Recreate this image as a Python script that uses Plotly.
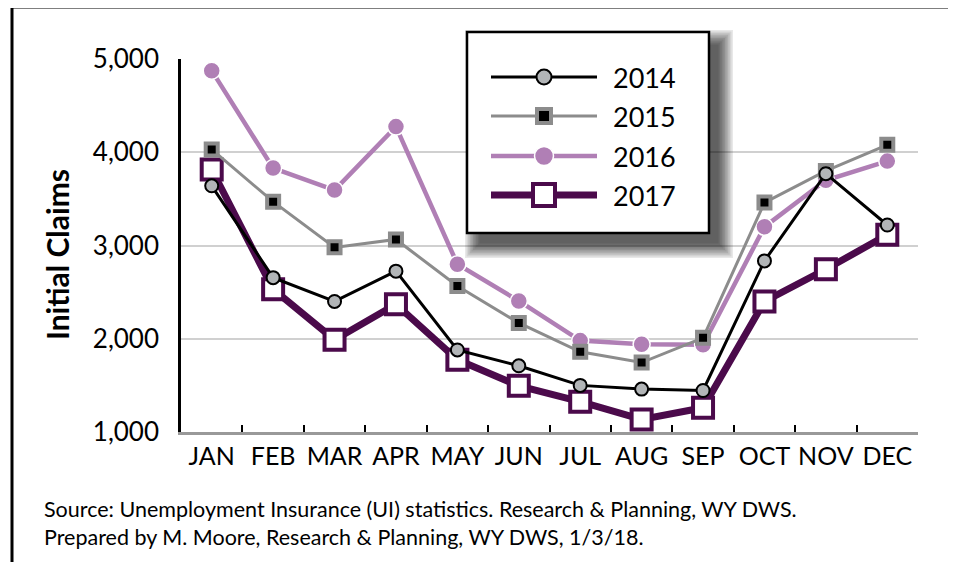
import plotly.graph_objects as go

months = ["JAN", "FEB", "MAR", "APR", "MAY", "JUN", "JUL", "AUG", "SEP", "OCT", "NOV", "DEC"]
claims_2014 = [3640, 2655, 2400, 2725, 1880, 1710, 1500, 1460, 1445, 2835, 3770, 3220]
claims_2015 = [4030, 3470, 2980, 3065, 2565, 2170, 1860, 1745, 2010, 3460, 3800, 4080]
claims_2016 = [4875, 3830, 3595, 4275, 2800, 2405, 1980, 1940, 1935, 3200, 3700, 3905]
claims_2017 = [3815, 2530, 1990, 2370, 1775, 1495, 1325, 1135, 1260, 2400, 2745, 3115]
y_ticks = [1000, 2000, 3000, 4000, 5000]
legend_years = ["2014", "2015", "2016", "2017"]

W, H = 956, 562
OFF = 8  # page body margin
FONT = "Lato"
C14_LINE, C14_FILL = "#000000", "#b2b5b7"
C15_LINE, C15_FILL = "#8c8c8c", "#000000"
C16 = "#b07fb5"
C17 = "#4b0a4b"

def px_x(p):
    return (p - OFF) / W

def px_y(p):
    return 1 - (p - OFF) / H

styles = {
    "2014": dict(line=dict(color=C14_LINE, width=3),
                 marker=dict(symbol="circle", size=13, color=C14_FILL, line=dict(color="#000", width=2))),
    "2015": dict(line=dict(color=C15_LINE, width=3),
                 marker=dict(symbol="square", size=12, color=C15_FILL, line=dict(color=C15_LINE, width=4))),
    "2016": dict(line=dict(color=C16, width=4.5),
                 marker=dict(symbol="circle", size=17, color=C16, line=dict(color="#fff", width=1.5))),
    "2017": dict(line=dict(color=C17, width=7),
                 marker=dict(symbol="square", size=20, color="#fff", line=dict(color=C17, width=4))),
}
series = {"2014": claims_2014, "2015": claims_2015, "2016": claims_2016, "2017": claims_2017}

fig = go.Figure()
for yr in ["2017", "2016", "2015", "2014"]:
    st = styles[yr]
    fig.add_trace(go.Scatter(x=months, y=series[yr], mode="lines+markers", name=yr,
                             line=st["line"], marker=st["marker"], showlegend=False,
                             xaxis="x", yaxis="y", cliponaxis=False))

# custom legend (page-pixel coordinates on a hidden helper axis pair)
LX0, LX1, LY0, LY1 = 455, 760, 20, 275
leg_rows = {"2014": 77, "2015": 116, "2016": 156, "2017": 195}
for yr in legend_years:
    st = styles[yr]
    ry = leg_rows[yr]
    fig.add_trace(go.Scatter(x=[491, 597], y=[ry, ry], mode="lines", line=st["line"],
                             showlegend=False, xaxis="x2", yaxis="y2", hoverinfo="skip"))
    mk = dict(st["marker"])
    mk["size"] = mk["size"] + 2
    fig.add_trace(go.Scatter(x=[544], y=[ry], mode="markers", marker=mk,
                             showlegend=False, xaxis="x2", yaxis="y2", hoverinfo="skip"))
    fig.add_annotation(x=611, y=ry, xref="x2", yref="y2", text=yr, showarrow=False,
                       xanchor="left", yanchor="middle",
                       font=dict(family=FONT, size=27, color="#000"))

shapes = []
# drop shadow
n = 10
for k in range(n):
    e = 13 - k * 1.6
    shapes.append(dict(type="rect", xref="x2", yref="y2", layer="below",
                       x0=467 + 11 - e, x1=709 + 11 + e, y0=31 + 12 - e, y1=233 + 12 + e,
                       fillcolor="rgba(0,0,0,0.09)", line=dict(width=0)))
shapes.append(dict(type="rect", xref="x2", yref="y2", layer="below",
                   x0=467, x1=709, y0=32, y1=233,
                   fillcolor="#ffffff", line=dict(color="#000", width=2.5)))
# outer frame
shapes.append(dict(type="rect", xref="paper", yref="paper", layer="below",
                   x0=px_x(12), x1=px_x(952), y0=-0.2, y1=px_y(7),
                   fillcolor="rgba(0,0,0,0)", line=dict(color="#000", width=3)))

fig.add_annotation(x=px_x(57), y=px_y(255), xref="paper", yref="paper",
                   text="<b>Initial Claims</b>", textangle=-90, showarrow=False,
                   xanchor="center", yanchor="middle",
                   font=dict(family=FONT, size=30, color="#000"))
fig.add_annotation(x=px_x(42), y=px_y(523), xref="paper", yref="paper",
                   text="Source: Unemployment Insurance (UI) statistics. Research &amp; Planning, WY DWS.<br>"
                        "Prepared by M. Moore, Research &amp; Planning, WY DWS, 1/3/18.",
                   showarrow=False, xanchor="left", yanchor="middle", align="left",
                   font=dict(family=FONT, size=21.5, color="#000"))

fig.update_layout(
    width=W, height=H,
    margin=dict(l=0, r=0, t=0, b=0, autoexpand=False),
    paper_bgcolor="#fff", plot_bgcolor="rgba(0,0,0,0)",
    font=dict(family=FONT, color="#000"),
    shapes=shapes,
    xaxis=dict(domain=[px_x(181), px_x(918)], type="category", range=[-0.5, 11.5],
               categoryorder="array", categoryarray=months,
               showline=True, linecolor="#999", linewidth=2.5,
               ticks="inside", tickson="boundaries", ticklen=7, tickwidth=2, tickcolor="#000",
               showgrid=False, tickfont=dict(family=FONT, size=25, color="#000"),
               tickangle=0, automargin=False,
               ticklabelstandoff=0, anchor="y"),
    yaxis=dict(domain=[px_y(432), px_y(59)], range=[1000, 5000], tickvals=y_ticks,
               tickformat=",", showline=True, linecolor="#000", linewidth=2.5,
               ticks="", showgrid=True, gridcolor="#d0d0d0", gridwidth=1.5,
               zeroline=False, tickfont=dict(family=FONT, size=26, color="#000"),
               automargin=False, ticklabelstandoff=14, anchor="x"),
    xaxis2=dict(domain=[px_x(LX0), px_x(LX1)], range=[LX0, LX1], visible=False,
                anchor="y2", fixedrange=True, automargin=False),
    yaxis2=dict(domain=[px_y(LY1), px_y(LY0)], range=[LY1, LY0], visible=False,
                anchor="x2", fixedrange=True, automargin=False),
    showlegend=False,
)

fig.write_html("out.html")
